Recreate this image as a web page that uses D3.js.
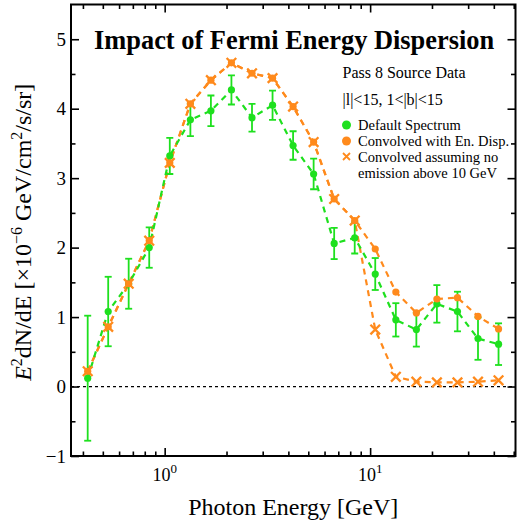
<!DOCTYPE html>
<html>
<head>
<meta charset="utf-8">
<script src="https://cdn.jsdelivr.net/npm/d3@7"></script>
<style>
  html, body { margin: 0; padding: 0; background: #fff; }
  svg { display: block; }
  text { font-family: "Liberation Serif", "Times New Roman", serif; fill: #000; }
</style>
</head>
<body>
<svg id="chart" width="520" height="525"></svg>
<script>
// ---- data ----
const energy = [0.422, 0.531, 0.668, 0.841, 1.059, 1.334, 1.679, 2.113, 2.661, 3.350, 4.217,
                5.309, 6.683, 8.414, 10.59, 13.34, 16.79, 21.13, 26.61, 33.50, 42.17];
const defaultSpectrum = [0.12, 1.08, 1.48, 2.00, 3.32, 3.84, 3.97, 4.27, 3.87, 4.05, 3.47,
                         3.06, 2.06, 2.14, 1.62, 0.96, 0.82, 1.19, 1.08, 0.69, 0.61];
const defaultError = [0.90, 0.50, 0.36, 0.29, 0.26, 0.235, 0.22, 0.21, 0.20, 0.21, 0.205,
                      0.22, 0.225, 0.225, 0.23, 0.24, 0.245, 0.27, 0.285, 0.305, 0.30];
const convolvedEnDisp = [0.22, 0.86, 1.48, 2.10, 3.22, 4.07, 4.41, 4.66, 4.51, 4.44, 4.03,
                         3.52, 2.70, 2.39, 1.98, 1.36, 1.06, 1.26, 1.28, 1.01, 0.83];
const convolvedNoHighE = [0.22, 0.86, 1.48, 2.10, 3.22, 4.07, 4.41, 4.66, 4.51, 4.44, 4.03,
                          3.52, 2.70, 2.39, 0.82, 0.14, 0.07, 0.06, 0.06, 0.07, 0.09];
const xMajorTicks = [1, 10];
const xMajorExponents = ["0", "1"];
const xMinorTicks = [0.4, 0.5, 0.6, 0.7, 0.8, 0.9, 2, 3, 4, 5, 6, 7, 8, 9, 20, 30, 40, 50];
const yMajorTicks = [-1, 0, 1, 2, 3, 4, 5];
const yMinorTicks = [-0.5, 0.5, 1.5, 2.5, 3.5, 4.5];
const legendLabels = [["Default Spectrum"], ["Convolved with En. Disp."], ["Convolved assuming no", "emission above 10 GeV"]];
const infoLines = ["Pass 8 Source Data", "|l|<15, 1<|b|<15"];
const titleText = "Impact of Fermi Energy Dispersion";

// ---- layout ----
const GREEN = "#1ee01e", ORANGE = "#ff8a1c";
const m = { l: 71, r: 515.5, t: 4.5, b: 456 };
const svg = d3.select("#chart");
const x = d3.scaleLog().domain([0.35, 51]).range([m.l, m.r]);
const y = d3.scaleLinear().domain([-1, 5.5]).range([m.b, m.t]);

const defs = svg.append("defs");
defs.append("clipPath").attr("id", "clip").append("rect")
  .attr("x", m.l).attr("y", m.t).attr("width", m.r - m.l).attr("height", m.b - m.t);

// zero line
svg.append("line")
  .attr("x1", m.l).attr("x2", m.r).attr("y1", y(0)).attr("y2", y(0))
  .attr("stroke", "#000").attr("stroke-width", 1.3).attr("stroke-dasharray", "3,3");

const plot = svg.append("g").attr("clip-path", "url(#clip)");
const line = d3.line().x((d, i) => x(energy[i])).y(d => y(d));

function dashed(data, color) {
  plot.append("path").datum(data).attr("d", line)
    .attr("fill", "none").attr("stroke", color).attr("stroke-width", 2.2)
    .attr("stroke-dasharray", "6,5");
}
dashed(convolvedNoHighE, ORANGE);
dashed(convolvedEnDisp, ORANGE);
dashed(defaultSpectrum, GREEN);

// error bars
const eb = plot.append("g").attr("stroke", GREEN).attr("stroke-width", 1.8);
defaultSpectrum.forEach((v, i) => {
  const cx = x(energy[i]), y1 = y(v - defaultError[i]), y2 = y(v + defaultError[i]);
  eb.append("line").attr("x1", cx).attr("x2", cx).attr("y1", y1).attr("y2", y2);
  eb.append("line").attr("x1", cx - 3.5).attr("x2", cx + 3.5).attr("y1", y1).attr("y2", y1);
  eb.append("line").attr("x1", cx - 3.5).attr("x2", cx + 3.5).attr("y1", y2).attr("y2", y2);
});
plot.append("g").selectAll("circle").data(defaultSpectrum).join("circle")
  .attr("cx", (d, i) => x(energy[i])).attr("cy", d => y(d)).attr("r", 3.6).attr("fill", GREEN);

plot.append("g").selectAll("circle").data(convolvedEnDisp).join("circle")
  .attr("cx", (d, i) => x(energy[i])).attr("cy", d => y(d)).attr("r", 3.6).attr("fill", ORANGE);

function xMark(g, cx, cy, s, w) {
  g.append("path").attr("d", `M${cx - s},${cy - s}L${cx + s},${cy + s}M${cx - s},${cy + s}L${cx + s},${cy - s}`)
    .attr("stroke", ORANGE).attr("stroke-width", w).attr("fill", "none");
}
const xg = plot.append("g");
convolvedNoHighE.forEach((v, i) => xMark(xg, x(energy[i]), y(v), 4.8, 2.3));

// ---- axes (ticks inside, mirrored) ----
function tickAxis(axisFn, scale, values, size, transform) {
  const g = svg.append("g").attr("transform", transform)
    .call(axisFn(scale).tickValues(values).tickSizeInner(size).tickSizeOuter(0).tickFormat(() => ""));
  g.select(".domain").remove();
  g.selectAll(".tick line").attr("stroke", "#000").attr("stroke-width", 1.6);
  return g;
}
tickAxis(d3.axisBottom, x, xMajorTicks, -8, `translate(0,${m.b})`);
tickAxis(d3.axisBottom, x, xMinorTicks, -4.5, `translate(0,${m.b})`);
tickAxis(d3.axisTop, x, xMajorTicks, -8, `translate(0,${m.t})`);
tickAxis(d3.axisTop, x, xMinorTicks, -4.5, `translate(0,${m.t})`);
tickAxis(d3.axisLeft, y, yMajorTicks, -8, `translate(${m.l},0)`);
tickAxis(d3.axisLeft, y, yMinorTicks, -4.5, `translate(${m.l},0)`);
tickAxis(d3.axisRight, y, yMajorTicks, -8, `translate(${m.r},0)`);
tickAxis(d3.axisRight, y, yMinorTicks, -4.5, `translate(${m.r},0)`);

// frame
svg.append("rect").attr("x", m.l).attr("y", m.t).attr("width", m.r - m.l).attr("height", m.b - m.t)
  .attr("fill", "none").attr("stroke", "#000").attr("stroke-width", 2);

// tick labels
const fmt = d3.format("");
svg.append("g").selectAll("text").data(yMajorTicks).join("text")
  .attr("x", m.l - 5).attr("y", d => y(d)).attr("dy", "0.35em")
  .attr("text-anchor", "end").attr("font-size", 19)
  .text(d => (d < 0 ? "\u2212" + Math.abs(d) : fmt(d)));

xMajorTicks.forEach((v, i) => {
  const t = svg.append("text").attr("x", x(v)).attr("y", 481).attr("text-anchor", "middle").attr("font-size", 18);
  t.append("tspan").text("10");
  t.append("tspan").attr("dy", -8).attr("font-size", 13).text(xMajorExponents[i]);
});

// axis titles
svg.append("text").attr("x", (m.l + m.r) / 2).attr("y", 515).attr("text-anchor", "middle")
  .attr("font-size", 24).text("Photon Energy [GeV]");

const yl = svg.append("text").attr("transform", `translate(31,${(m.t + m.b) / 2 + 2}) rotate(-90)`)
  .attr("text-anchor", "middle").attr("font-size", 24);
yl.append("tspan").attr("font-style", "italic").text("E");
yl.append("tspan").attr("dy", -9).attr("font-size", 16).text("2");
yl.append("tspan").attr("dy", 9).text("dN/dE [\u00d710");
yl.append("tspan").attr("dy", -9).attr("font-size", 16).text("\u22126");
yl.append("tspan").attr("dy", 9).text(" GeV/cm");
yl.append("tspan").attr("dy", -9).attr("font-size", 16).text("2");
yl.append("tspan").attr("dy", 9).text("/s/sr]");

// title
svg.append("text").attr("x", 94).attr("y", 48.5).attr("font-size", 26.4).attr("font-weight", "bold").text(titleText);

// info lines
infoLines.forEach((s, i) => {
  svg.append("text").attr("x", 342.5).attr("y", 77.5 + i * 27).attr("font-size", 16).text(s);
});

// legend
const lg = svg.append("g");
const lx = 346.5;
lg.append("circle").attr("cx", lx).attr("cy", 125).attr("r", 4.5).attr("fill", GREEN);
lg.append("circle").attr("cx", lx).attr("cy", 141).attr("r", 4.5).attr("fill", ORANGE);
xMark(lg, lx, 156.5, 3.5, 1.8);
let ly = 129.5;
legendLabels.forEach(lines => {
  lines.forEach(s => {
    lg.append("text").attr("x", 358).attr("y", ly).attr("font-size", 14.5).text(s);
    ly += 16;
  });
});
</script>
</body>
</html>
